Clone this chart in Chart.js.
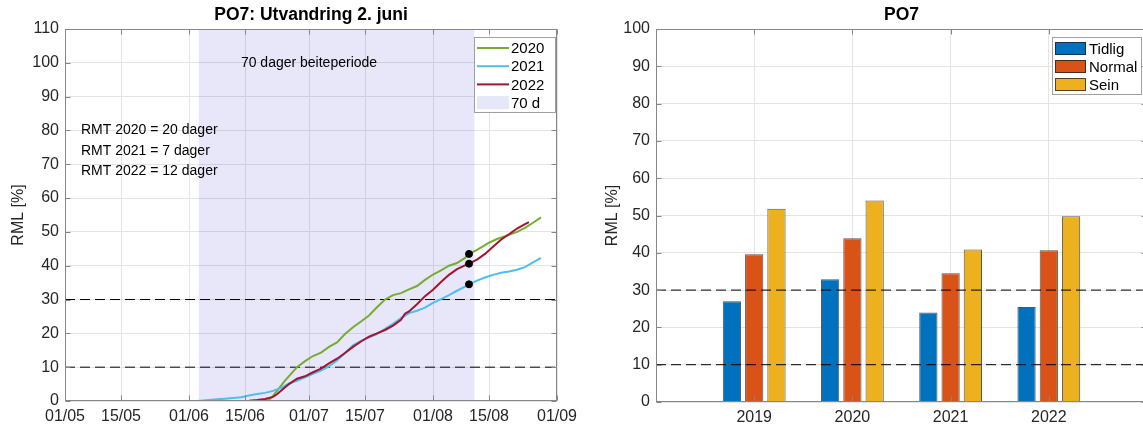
<!DOCTYPE html>
<html>
<head>
<meta charset="utf-8">
<script src="https://cdn.jsdelivr.net/npm/chart.js@4.4.0/dist/chart.umd.min.js"></script>
<style>
html, body { margin: 0; padding: 0; background: #fff; overflow: hidden; }
#wrap { position: relative; width: 1143px; height: 430px; overflow: hidden; }
#left { position: absolute; left: 0; top: 0; }
#right { position: absolute; left: 592px; top: 0; }
</style>
</head>
<body>
<div id="wrap">
  <canvas id="left" width="590" height="430"></canvas>
  <canvas id="right" width="575" height="430"></canvas>
</div>
<script>
// ---- left chart data (x = days after 01/05) ----
const xTickDays = [0, 14, 31, 45, 61, 75, 92, 106, 123];
const xTickLabels = ['01/05', '15/05', '01/06', '15/06', '01/07', '15/07', '01/08', '15/08', '01/09'];

const days2020 = [33, 40, 48, 51, 52, 53, 55, 58, 60, 62, 64, 66, 68, 70, 72, 74, 76, 78, 80, 82, 84, 86, 88, 90, 92, 94, 96, 98, 100, 101, 103, 106, 108, 110, 113, 115, 117, 119];
const rml2020 = [0, 0, 0, 0.3, 1.5, 3, 6, 10, 11.8, 13.3, 14.3, 16, 17.3, 19.8, 21.8, 23.5, 25.3, 27.7, 30, 31.3, 31.9, 33, 34, 35.8, 37.4, 38.6, 40, 40.8, 42.3, 43.5, 44.7, 46.8, 47.9, 48.7, 50, 51.2, 52.7, 54.3];

const days2021 = [33, 34, 36, 38, 40, 42, 44, 46, 48, 50, 52, 54, 56, 58, 60, 62, 64, 66, 68, 70, 72, 74, 76, 78, 80, 82, 84, 86, 88, 90, 92, 94, 96, 98, 100, 101, 103, 105, 107, 109, 111, 113, 115, 117, 119];
const rml2021 = [0, 0.1, 0.3, 0.5, 0.7, 0.9, 1.1, 1.6, 2.1, 2.4, 3, 3.9, 5.2, 6, 7, 8, 9, 10.2, 12, 14.2, 16.5, 17.8, 18.8, 19.8, 21.3, 22.8, 24.5, 26, 26.7, 27.6, 29, 30.1, 31.3, 32.6, 33.8, 34.5, 35.6, 36.5, 37.3, 37.9, 38.3, 38.8, 39.6, 41, 42.3];

const days2022 = [33, 40, 44, 46, 48, 50, 52, 53, 54, 56, 58, 60, 62, 64, 66, 68, 70, 72, 74, 76, 78, 80, 82, 84, 85, 86, 88, 90, 92, 94, 96, 98, 100, 101, 103, 105, 107, 109, 111, 113, 115, 116];
const rml2022 = [0, 0, 0, 0.1, 0.3, 0.6, 1.2, 2, 3, 5, 6.6, 7.3, 8.5, 9.6, 11.1, 12.5, 14.2, 16, 17.6, 19, 20, 21, 22.3, 24, 25.8, 26.5, 28.6, 31, 32.9, 35.2, 37.3, 39, 40.1, 40.6, 41.8, 43.5, 45.6, 47.7, 49.3, 51, 52.3, 52.9];

const markerDays = [101, 101, 101];
const markerValues = [43.5, 34.5, 40.6];

const periodDays = [33.4, 102.4];   // 70 dager beiteperiode
const refLevels = [10, 30];
const rmtLabels = ['RMT 2020 = 20 dager', 'RMT 2021 = 7 dager', 'RMT 2022 = 12 dager'];
const rmtLevels = [80, 74, 68];

// ---- right chart data ----
const yearLabels = ['', '2019', '2020', '2021', '2022', ''];
const tidlig = [null, 27.0, 32.9, 24.0, 25.5, null];
const normal = [null, 39.6, 43.9, 34.5, 40.7, null];
const sein = [null, 51.8, 54.0, 40.9, 49.8, null];

const fontFam = '"Liberation Sans", Arial, Helvetica, sans-serif';
const textCol = '#262626';
const axisGray = '#868686';
const gridCol = '#e4e4e4';

function pts(xs, ys) {
  return xs.map((x, i) => ({ x: x, y: ys[i] }));
}

// frame, inward ticks, title, annotations and legend
const decor = {
  id: 'decor',
  beforeDraw(chart) {
    const ctx = chart.ctx;
    ctx.save();
    ctx.fillStyle = '#fff';
    ctx.fillRect(0, 0, chart.width, chart.height);
    ctx.restore();
  },
  afterDraw(chart, args, o) {
    const { ctx, chartArea: a, scales } = chart;
    ctx.save();
    ctx.strokeStyle = axisGray;
    ctx.lineWidth = 1;
    const L = Math.round(a.left) + 0.5, R = Math.round(a.right) - 0.5;
    const T = Math.round(a.top) + 0.5, B = Math.round(a.bottom) - 0.5;
    ctx.beginPath();
    scales.x.ticks.forEach((t, i) => {
      const px = Math.round(scales.x.getPixelForTick(i)) + 0.5;
      ctx.moveTo(px, B); ctx.lineTo(px, B - 5);
      ctx.moveTo(px, T); ctx.lineTo(px, T + 5);
    });
    scales.y.ticks.forEach((t, i) => {
      const py = Math.round(scales.y.getPixelForTick(i)) + 0.5;
      ctx.moveTo(L, py); ctx.lineTo(L + 5, py);
      ctx.moveTo(R, py); ctx.lineTo(R - 5, py);
    });
    ctx.stroke();
    ctx.strokeRect(L, T, R - L, B - T);

    // title
    ctx.fillStyle = '#000';
    ctx.font = 'bold 17.5px ' + fontFam;
    ctx.textAlign = 'center';
    ctx.textBaseline = 'middle';
    ctx.fillText(o.title, (a.left + a.right) / 2, 15);

    // text annotations
    ctx.font = '14px ' + fontFam;
    (o.notes || []).forEach(n => {
      ctx.textAlign = n.align;
      ctx.fillText(n.text, scales.x.getPixelForValue(n.x), scales.y.getPixelForValue(n.y));
    });

    // legend
    const lg = o.legend;
    const bx = a.right - lg.right - lg.w, by = a.top + lg.top;
    ctx.fillStyle = '#fff';
    ctx.fillRect(bx, by, lg.w, lg.h);
    ctx.strokeStyle = '#a0a0a0';
    ctx.strokeRect(Math.round(bx) + 0.5, Math.round(by) + 0.5, lg.w, lg.h);
    ctx.font = '15px ' + fontFam;
    ctx.textAlign = 'left';
    lg.items.forEach((it, i) => {
      const cy = by + lg.first + i * lg.step;
      if (it.kind === 'line') {
        ctx.strokeStyle = it.color;
        ctx.lineWidth = 2;
        ctx.beginPath();
        ctx.moveTo(bx + 3, cy); ctx.lineTo(bx + 35, cy);
        ctx.stroke();
      } else {
        ctx.fillStyle = it.color;
        ctx.fillRect(bx + 3, cy - 6.5, lg.sw, 13);
        if (it.edge) {
          ctx.strokeStyle = it.edge;
          ctx.lineWidth = 1;
          ctx.strokeRect(bx + 3.5, cy - 6, lg.sw - 1, 12);
        }
      }
      ctx.fillStyle = '#000';
      ctx.fillText(it.label, bx + lg.tx, cy + 1);
    });
    ctx.restore();
  }
};

const c2020 = '#77AC30', c2021 = '#4DBEEE', c2022 = '#A2142F';
const shade = 'rgba(20, 20, 200, 0.1)';

new Chart(document.getElementById('left'), {
  type: 'line',
  data: {
    datasets: [
      { label: 'marks', data: pts(markerDays, markerValues), showLine: false, pointRadius: 3.5,
        pointBackgroundColor: '#000', pointBorderColor: '#000', order: 0 },
      { label: '2022', data: pts(days2022, rml2022), borderColor: c2022, borderWidth: 2, pointRadius: 0, order: 1 },
      { label: '2021', data: pts(days2021, rml2021), borderColor: c2021, borderWidth: 2, pointRadius: 0, order: 2 },
      { label: '2020', data: pts(days2020, rml2020), borderColor: c2020, borderWidth: 2, pointRadius: 0, order: 3 },
      ...refLevels.map(v => ({ label: 'ref', data: [{ x: 0, y: v }, { x: 123, y: v }], borderColor: '#000',
        borderWidth: 1, borderDash: [10, 5], pointRadius: 0, order: 5 })),
      { label: '70 d', data: [{ x: periodDays[0], y: 110 }, { x: periodDays[1], y: 110 }], borderWidth: 0,
        pointRadius: 0, fill: 'origin', backgroundColor: shade, order: 10 }
    ]
  },
  options: {
    responsive: false,
    devicePixelRatio: 1,
    animation: false,
    layout: { padding: { top: 29, right: 33, left: 0, bottom: 0 } },
    plugins: {
      legend: { display: false },
      tooltip: { enabled: false },
      decor: {
        title: 'PO7: Utvandring 2. juni',
        notes: [
          { text: '70 dager beiteperiode', x: 61, y: 100, align: 'center' },
          ...rmtLabels.map((t, i) => ({ text: t, x: 4, y: rmtLevels[i], align: 'left' }))
        ],
        legend: {
          right: 2, top: 8, w: 81, h: 75, first: 11, step: 18.2, tx: 37, sw: 32,
          items: [
            { kind: 'line', color: c2020, label: '2020' },
            { kind: 'line', color: c2021, label: '2021' },
            { kind: 'line', color: c2022, label: '2022' },
            { kind: 'patch', color: 'rgb(231,231,250)', label: '70 d' }
          ]
        }
      }
    },
    scales: {
      x: {
        type: 'linear', min: 0, max: 123,
        afterBuildTicks: s => { s.ticks = xTickDays.map(v => ({ value: v })); },
        afterFit: s => { s.height = 29; },
        grid: { color: gridCol, drawTicks: false },
        border: { display: false },
        ticks: {
          padding: 6, color: textCol, font: { family: fontFam, size: 16 },
          maxRotation: 0, autoSkip: false,
          callback: (v) => xTickLabels[xTickDays.indexOf(v)]
        }
      },
      y: {
        min: 0, max: 110,
        afterFit: s => { s.width = 65; },
        grid: { color: gridCol, drawTicks: false },
        border: { display: false },
        ticks: { stepSize: 10, padding: 6, color: textCol, font: { family: fontFam, size: 16 } },
        title: { display: true, text: 'RML [%]', color: textCol, font: { family: fontFam, size: 16 },
          padding: { top: 9, bottom: 0 } }
      }
    }
  },
  plugins: [decor]
});

const cT = '#0072BD', cN = '#D95319', cS = '#EDB120';
const edge = 'rgba(30,30,30,0.75)';

new Chart(document.getElementById('right'), {
  type: 'bar',
  data: {
    labels: yearLabels,
    datasets: [
      ...refLevels.map(v => ({ type: 'line', label: 'ref', data: yearLabels.map(() => v), borderColor: '#000',
        borderWidth: 1, borderDash: [10, 5], pointRadius: 0, order: 0 })),
      { label: 'Tidlig', data: tidlig, backgroundColor: cT, borderColor: edge, borderWidth: 1, order: 1 },
      { label: 'Normal', data: normal, backgroundColor: cN, borderColor: edge, borderWidth: 1, order: 1 },
      { label: 'Sein', data: sein, backgroundColor: cS, borderColor: edge, borderWidth: 1, order: 1 }
    ]
  },
  options: {
    responsive: false,
    devicePixelRatio: 1,
    animation: false,
    layout: { padding: { top: 29, right: 20, left: 0, bottom: 0 } },
    datasets: { bar: { categoryPercentage: 0.68, barPercentage: 0.82 } },
    plugins: {
      legend: { display: false },
      tooltip: { enabled: false },
      decor: {
        title: 'PO7',
        notes: [],
        legend: {
          right: 6, top: 8, w: 89, h: 57, first: 11.5, step: 18, tx: 37, sw: 31,
          items: [
            { kind: 'patch', color: cT, edge: edge, label: 'Tidlig' },
            { kind: 'patch', color: cN, edge: edge, label: 'Normal' },
            { kind: 'patch', color: cS, edge: edge, label: 'Sein' }
          ]
        }
      }
    },
    scales: {
      x: {
        type: 'category', offset: false,
        afterFit: s => { s.height = 28; },
        grid: { color: gridCol, drawTicks: false, offset: false },
        border: { display: false },
        ticks: { padding: 6, color: textCol, font: { family: fontFam, size: 16 }, maxRotation: 0, autoSkip: false }
      },
      y: {
        min: 0, max: 100,
        afterFit: s => { s.width = 64; },
        grid: { color: gridCol, drawTicks: false },
        border: { display: false },
        ticks: { stepSize: 10, padding: 6, color: textCol, font: { family: fontFam, size: 16 } },
        title: { display: true, text: 'RML [%]', color: textCol, font: { family: fontFam, size: 16 },
          padding: { top: 11, bottom: 0 } }
      }
    }
  },
  plugins: [decor]
});
</script>
</body>
</html>
